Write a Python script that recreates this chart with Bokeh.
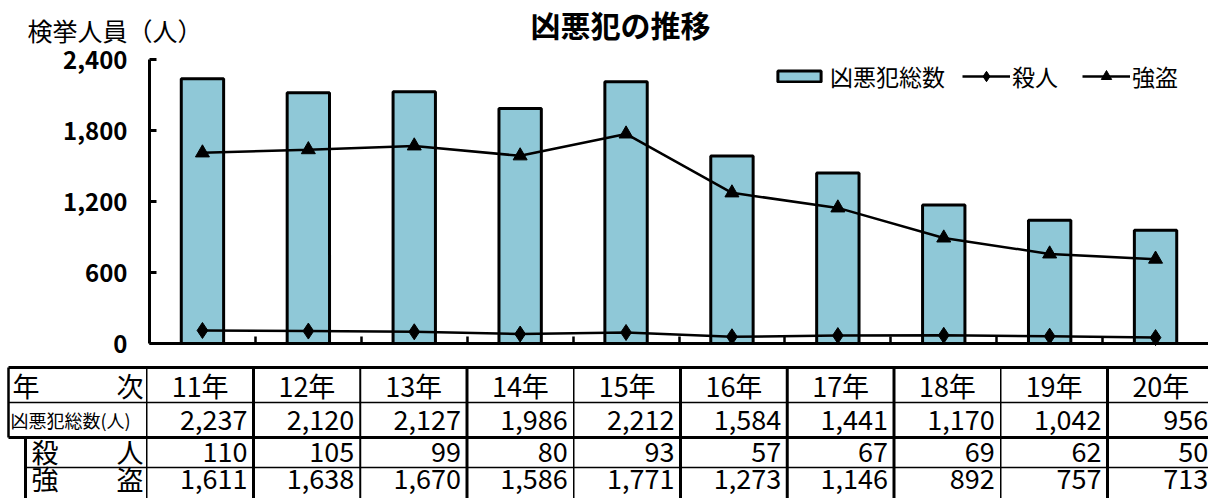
from bokeh.plotting import figure
from bokeh.models import (Range1d, FixedTicker, NumeralTickFormatter, Label, Legend,
                          LegendItem, ColumnDataSource, LinearAxis)
from bokeh.embed import file_html
from bokeh.resources import INLINE
from bokeh.core.properties import value

# 凶悪犯の検挙人員（平成11年〜20年）
years = ["11年", "12年", "13年", "14年", "15年", "16年", "17年", "18年", "19年", "20年"]
total = [2237, 2120, 2127, 1986, 2212, 1584, 1441, 1170, 1042, 956]
murder = [110, 105, 99, 80, 93, 57, 67, 69, 62, 50]
robbery = [1611, 1638, 1670, 1586, 1771, 1273, 1146, 892, 757, 713]
y_ticks = [0, 600, 1200, 1800, 2400]

FONT = "Noto Sans CJK JP"
BAR_FILL = "#8FC8D7"
W, H = 1208, 498

# page geometry (pixels): the chart area and the data table below it share one frame
X0_PX, CAT_PX = 149, 105.9          # left edge of the first year, width of one year
Y_TOP_PX, Y0_PX = 59, 343           # pixel rows of 2,400 and 0
Y_MAX = y_ticks[-1]
UPP = Y_MAX / (Y0_PX - Y_TOP_PX)    # data units per pixel, vertically


def dx(px):
    return (px - X0_PX) / CAT_PX


def dy(py):
    return (Y0_PX - py) * UPP


n = len(years)
pos = [i + 0.5 for i in range(n)]
src = ColumnDataSource(dict(x=pos, year=years, total=total, murder=murder, robbery=robbery))

p = figure(width=W, height=H, x_range=Range1d(dx(0), dx(W)), y_range=Range1d(dy(H), dy(0)),
           output_backend="svg", toolbar_location=None, min_border=0,
           x_axis_location=None, y_axis_location=None)
p.grid.visible = False
p.outline_line_color = None
p.background_fill_color = "white"
p.border_fill_color = "white"

# ---------------- chart ----------------
bars = p.vbar(x="x", top="total", bottom=0, width=0.4, source=src,
              fill_color=BAR_FILL, line_color="black", line_width=3)
m_line = p.line("x", "murder", source=src, line_color="black", line_width=2.5)
m_pts = p.scatter("x", "murder", source=src, marker="diamond", size=16,
                  fill_color="black", line_color="black")
r_line = p.line("x", "robbery", source=src, line_color="black", line_width=2.5)
r_pts = p.scatter("x", "robbery", source=src, marker="triangle", size=14,
                  fill_color="black", line_color="black")

yax = LinearAxis(fixed_location=0, bounds=(0, Y_MAX), ticker=FixedTicker(ticks=y_ticks),
                 formatter=NumeralTickFormatter(format="0,0"))
yax.axis_line_width = 3
yax.major_tick_in = 7
yax.major_tick_out = 0
yax.major_tick_line_width = 3
yax.minor_tick_line_color = None
yax.major_label_standoff = 22
yax.major_label_text_font = FONT
yax.major_label_text_font_size = "24px"
yax.major_label_text_font_style = "bold"
yax.major_label_text_color = "black"
p.add_layout(yax, "left")

xax = LinearAxis(fixed_location=0, bounds=(0, n), ticker=FixedTicker(ticks=list(range(1, n))))
xax.major_label_overrides = {i: "" for i in range(1, n)}
xax.axis_line_width = 3
xax.major_tick_in = 7
xax.major_tick_out = 0
xax.major_tick_line_width = 2.5
xax.minor_tick_line_color = None
xax.major_label_standoff = 0
p.add_layout(xax, "below")

legend_common = dict(orientation="horizontal", padding=0, margin=0, border_line_color=None,
                     background_fill_alpha=0, label_text_font=FONT,
                     label_text_font_size="23px", label_text_color="black")
leg_bar = Legend(items=[LegendItem(label="凶悪犯総数", renderers=[bars])],
                 location=(772, H - 93), glyph_width=54, glyph_height=14, label_standoff=4,
                 **legend_common)
leg_lines = Legend(items=[LegendItem(label="殺人", renderers=[m_line, m_pts]),
                          LegendItem(label="強盗", renderers=[r_line, r_pts])],
                   location=(962, H - 93), glyph_width=48, glyph_height=26, label_standoff=2,
                   spacing=24, **legend_common)
p.add_layout(leg_bar)
p.add_layout(leg_lines)

p.add_layout(Label(x=620, y=H - 1, x_units="screen", y_units="screen", text="凶悪犯の推移",
                   text_font=FONT, text_font_size="30px", text_font_style="bold",
                   text_align="center", text_baseline="top", text_color="black"))
p.add_layout(Label(x=27, y=H - 29, x_units="screen", y_units="screen", text="検挙人員（人）",
                   text_font=FONT, text_font_size="25px",
                   text_align="left", text_baseline="middle", text_color="black"))

# ---------------- data table ----------------
LBL_RIGHT = 146.25
CW = 106.75
bounds = [LBL_RIGHT + CW * k for k in range(n + 1)]
rows = [367, 402, 437, 467, 505]
row_mid = [385, 419, 451, 478]
OUTER_L, INNER_L = 8, 25

# horizontal rules
hx0 = [OUTER_L, OUTER_L, OUTER_L, INNER_L]
p.segment(x0=[dx(v) for v in hx0], x1=[dx(bounds[-1])] * 4,
          y0=[dy(v) for v in rows[:4]], y1=[dy(v) for v in rows[:4]],
          line_color="black", line_width=[3, 1.5, 3, 1.5])
# vertical rules
vx = [OUTER_L, INNER_L] + bounds[:-1]
vy0 = [rows[0], rows[2]] + [rows[0]] * n
vy1 = [rows[2], rows[4]] + [rows[4]] * n
vw = [2.5, 3, 1.5, 3, 2, 3, 1.5, 3, 3, 3, 1.5, 3]
p.segment(x0=[dx(v) for v in vx], x1=[dx(v) for v in vx],
          y0=[dy(v) for v in vy0], y1=[dy(v) for v in vy1], line_color="black", line_width=vw)

centers = [dx((bounds[k] + bounds[k + 1]) / 2) for k in range(n)]
rights = [dx(bounds[k + 1] - 6) for k in range(n)]
cell_font = dict(text_font=value(FONT), text_font_size="27px", text_color="black",
                 text_baseline="middle")

p.text(x=centers, y=[dy(row_mid[0])] * n, text=years, text_align="center", **cell_font)
p.text(x=rights, y=[dy(row_mid[1])] * n, text=[f"{v:,}" for v in total],
       text_align="right", **cell_font)
p.text(x=rights, y=[dy(row_mid[2])] * n, text=[f"{v:,}" for v in murder],
       text_align="right", **cell_font)
p.text(x=rights, y=[dy(row_mid[3])] * n, text=[f"{v:,}" for v in robbery],
       text_align="right", **cell_font)

# row headings
head_y = [dy(row_mid[0]), dy(row_mid[2]), dy(row_mid[3])]
p.text(x=[dx(12), dx(31), dx(31)], y=head_y, text=["年", "殺", "強"],
       text_align="left", **cell_font)
p.text(x=[dx(143)] * 3, y=head_y, text=["次", "人", "盗"], text_align="right", **cell_font)
p.text(x=[dx(10)], y=[dy(row_mid[1])], text=["凶悪犯総数(人)"], text_align="left",
       text_font=value(FONT), text_font_size="18px", text_color="black", text_baseline="middle")

with open("out.html", "w") as f:
    f.write(file_html(p, INLINE))
